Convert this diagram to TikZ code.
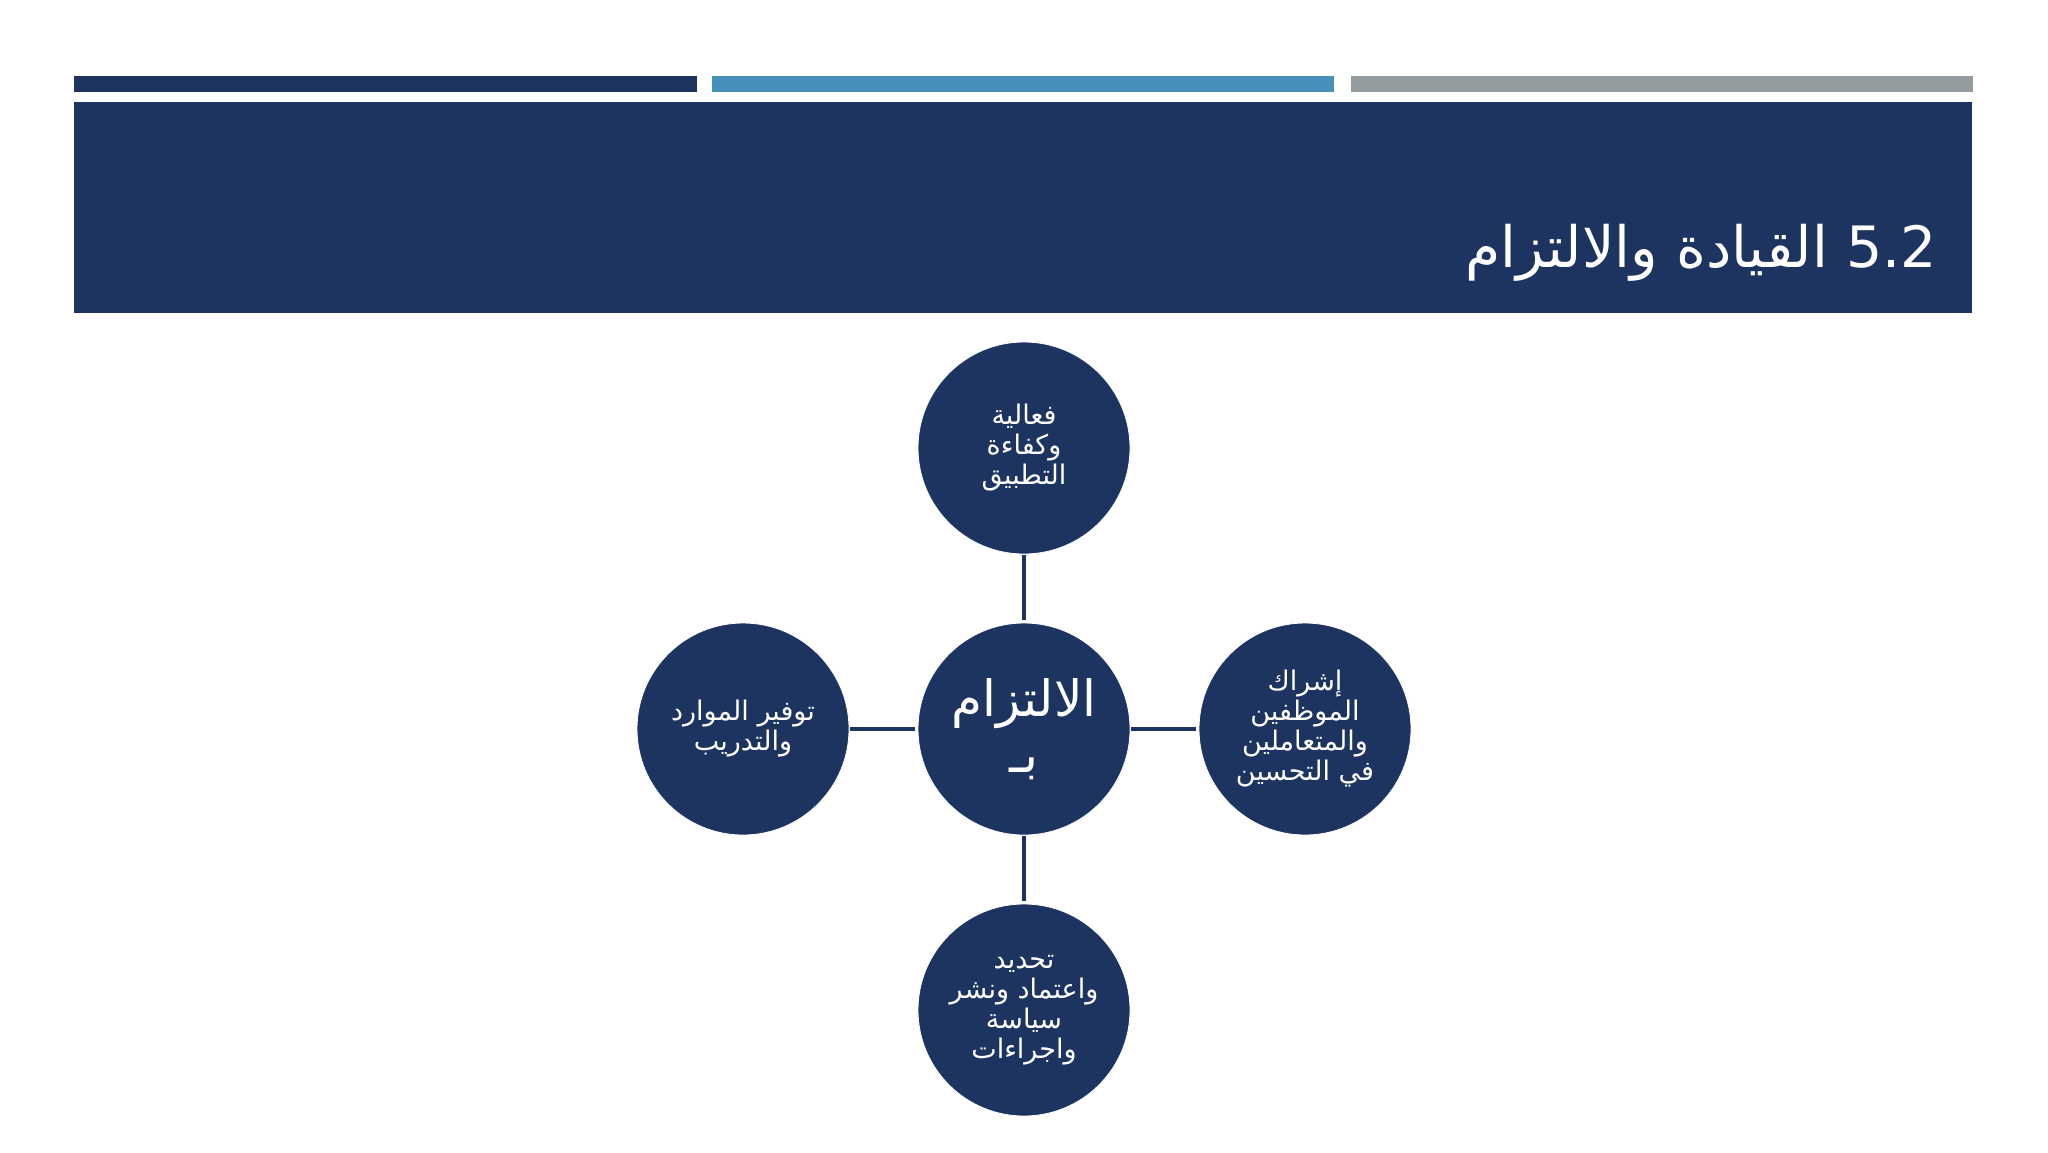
\documentclass[tikz,border=0pt]{standalone}
\usepackage{fontspec}
\TeXXeTstate=1
\newfontfamily\arabicfont[Script=Arabic]{DejaVu Sans}
\definecolor{navy}{HTML}{1D3461}
\definecolor{steel}{HTML}{4790B9}
\definecolor{greybar}{HTML}{959CA0}
\tikzset{
  bubble/.style={circle, fill=navy, draw=white, line width=0.8pt, minimum size=212pt,
    inner sep=0pt, outer sep=0pt, text=white, align=center,
    font=\arabicfont\fontsize{27}{30}\selectfont},
  bigbubble/.style={bubble, font=\arabicfont\fontsize{50}{56}\selectfont},
  link/.style={draw=navy, line width=3.5pt, shorten <=1pt, shorten >=3pt},
  bar/.style={inner sep=0pt, outer sep=0pt}
}
\begin{document}
\begin{tikzpicture}[x=1pt,y=-1pt]
\useasboundingbox[fill=white] (0,0) rectangle (2048,1152);
% top bars
\fill[navy] (74,76) rectangle (697,92);
\fill[steel] (712,76) rectangle (1334,92);
\fill[greybar] (1351,76) rectangle (1973,92);
% header band
\fill[navy] (74,102) rectangle (1972,313);
\node[anchor=base east, inner sep=0pt, text=white, font=\arabicfont\fontsize{57}{70}\selectfont]
  (title) at (1937,267) {\beginR\beginL 5.2\endL{} القيادة والالتزام\endR};
% circles
\node[bigbubble] (ctr) at (1024,729) {\beginR الالتزام\endR\\\beginR بـ\endR};
\node[bubble] (top) at (1024,448) {\beginR فعالية\endR\\\beginR وكفاءة\endR\\\beginR التطبيق\endR};
\node[bubble] (left) at (743,729) {\beginR توفير الموارد\endR\\\beginR والتدريب\endR};
\node[bubble] (right) at (1305,729) {\beginR إشراك\endR\\\beginR الموظفين\endR\\\beginR والمتعاملين\endR\\\beginR في التحسين\endR};
\node[bubble] (bottom) at (1024,1010) {\beginR تحديد\endR\\\beginR واعتماد ونشر\endR\\\beginR سياسة\endR\\\beginR واجراءات\endR};
% connectors
\draw[link] (top) -- (ctr);
\draw[link] (ctr) -- (bottom);
\draw[link] (left) -- (ctr);
\draw[link] (ctr) -- (right);
\end{tikzpicture}
\end{document}
